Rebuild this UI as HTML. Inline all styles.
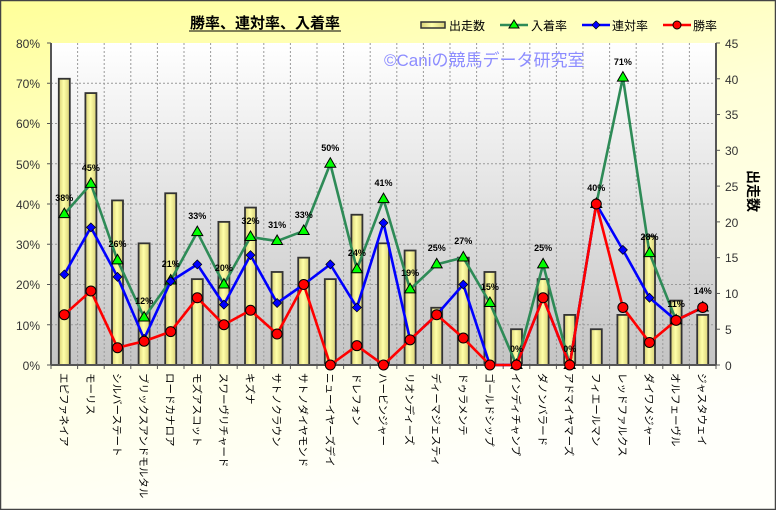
<!DOCTYPE html>
<html><head><meta charset="utf-8"><style>
html,body{margin:0;padding:0;width:776px;height:510px;overflow:hidden;background:#fff}
svg{display:block;font-family:"Liberation Sans","Noto Sans CJK JP",sans-serif}
</style></head><body>
<svg id="s" width="776" height="510" viewBox="0 0 776 510" xmlns="http://www.w3.org/2000/svg">
<defs>
<linearGradient id="bg" x1="0" y1="0" x2="0.35" y2="1"><stop offset="0" stop-color="#ffff99"/><stop offset="0.45" stop-color="#ffffd8"/><stop offset="1" stop-color="#fffffa"/></linearGradient>
<linearGradient id="pa" x1="0" y1="0" x2="0" y2="1"><stop offset="0" stop-color="#ffffff"/><stop offset="1" stop-color="#c4c4c4"/></linearGradient>
<linearGradient id="bar" x1="0" y1="0" x2="1" y2="0"><stop offset="0" stop-color="#d8d078"/><stop offset="0.45" stop-color="#ffffa8"/><stop offset="1" stop-color="#d8d078"/></linearGradient>
</defs>
<rect x="0.5" y="0.5" width="775" height="509" fill="url(#bg)" stroke="#444" stroke-width="1.5"/>
<rect x="51" y="43" width="665" height="322" fill="url(#pa)"/>
<g id="grid" stroke="#9a9a9a" stroke-width="1" stroke-dasharray="2,2" fill="none"></g>
<g id="bars"></g>
<line x1="51" y1="43" x2="51" y2="365" stroke="#555" stroke-width="2"/>
<line x1="716" y1="43" x2="716" y2="365" stroke="#555" stroke-width="2"/>
<line x1="51" y1="365" x2="716" y2="365" stroke="#555" stroke-width="2"/>
<g id="ticks" stroke="#555" stroke-width="1"></g>
<g id="series"></g>
<text x="265" y="28" font-size="15" font-weight="bold" text-anchor="middle" fill="#000">勝率、連対率、入着率</text>
<line x1="189" y1="31" x2="341" y2="31" stroke="#000" stroke-width="1"/>
<!-- legend -->
<rect x="421" y="22" width="24" height="6" fill="url(#bar)" stroke="#333" stroke-width="1.5"/>
<text x="449" y="30" font-size="12">出走数</text>
<line x1="500" y1="25" x2="528" y2="25" stroke="#2e8b57" stroke-width="2.5"/><polygon points="514,20 519,28 509,28" fill="#00ff00" stroke="#000" stroke-width="1"/>
<text x="531" y="30" font-size="12">入着率</text>
<line x1="582" y1="25" x2="610" y2="25" stroke="#0000ff" stroke-width="2.5"/><polygon points="596,21 600,25 596,29 592,25" fill="#0000ff" stroke="#000" stroke-width=".7"/>
<text x="612" y="30" font-size="12">連対率</text>
<line x1="663" y1="25" x2="691" y2="25" stroke="#ff0000" stroke-width="2.5"/><circle cx="677" cy="25" r="4" fill="#ff0000" stroke="#000" stroke-width="1"/>
<text x="693" y="30" font-size="12">勝率</text>
<text x="384" y="66" font-size="17" fill="#8c8cff">©Caniの競馬データ研究室</text>
<!-- left axis -->
<g font-size="12" fill="#333" text-anchor="end">
<text x="40" y="48">80%</text><text x="40" y="88">70%</text><text x="40" y="128">60%</text><text x="40" y="169">50%</text><text x="40" y="209">40%</text><text x="40" y="249">30%</text><text x="40" y="289">20%</text><text x="40" y="330">10%</text><text x="40" y="370">0%</text>
</g>
<g font-size="12" fill="#333" text-anchor="start">
<text x="725" y="48">45</text><text x="725" y="84">40</text><text x="725" y="119">35</text><text x="725" y="155">30</text><text x="725" y="191">25</text><text x="725" y="227">20</text><text x="725" y="262">15</text><text x="725" y="298">10</text><text x="725" y="334">5</text><text x="725" y="370">0</text>
</g>
<text font-size="14" font-weight="bold" fill="#000" transform="translate(748,170) rotate(90)">出走数</text>
<!-- x labels -->
<g font-size="10.5" fill="#000">
<text transform="translate(60.3,373) rotate(90)">エピファネイア</text>
<text transform="translate(86.9,373) rotate(90)">モーリス</text>
<text transform="translate(113.5,373) rotate(90)">シルバーステート</text>
<text transform="translate(140.1,373) rotate(90)">ブリックスアンドモルタル</text>
<text transform="translate(166.7,373) rotate(90)">ロードカナロア</text>
<text transform="translate(193.3,373) rotate(90)">モズアスコット</text>
<text transform="translate(219.9,373) rotate(90)">スワーヴリチャード</text>
<text transform="translate(246.5,373) rotate(90)">キズナ</text>
<text transform="translate(273.1,373) rotate(90)">サトノクラウン</text>
<text transform="translate(299.7,373) rotate(90)">サトノダイヤモンド</text>
<text transform="translate(326.3,373) rotate(90)">ニューイヤーズデイ</text>
<text transform="translate(352.9,373) rotate(90)">ドレフォン</text>
<text transform="translate(379.5,373) rotate(90)">ハービンジャー</text>
<text transform="translate(406.1,373) rotate(90)">リオンディーズ</text>
<text transform="translate(432.7,373) rotate(90)">ディーマジェスティ</text>
<text transform="translate(459.3,373) rotate(90)">ドゥラメンテ</text>
<text transform="translate(485.9,373) rotate(90)">ゴールドシップ</text>
<text transform="translate(512.5,373) rotate(90)">インディチャンプ</text>
<text transform="translate(539.1,373) rotate(90)">ダノンバラード</text>
<text transform="translate(565.7,373) rotate(90)">アドマイヤマーズ</text>
<text transform="translate(592.3,373) rotate(90)">フィエールマン</text>
<text transform="translate(618.9,373) rotate(90)">レッドファルクス</text>
<text transform="translate(645.5,373) rotate(90)">ダイワメジャー</text>
<text transform="translate(672.1,373) rotate(90)">オルフェーヴル</text>
<text transform="translate(698.7,373) rotate(90)">ジャスタウェイ</text>
</g>
<!-- data labels -->
<g font-size="9" font-weight="bold" text-anchor="middle" fill="#000">
<text x="64.3" y="201">38%</text><text x="90.9" y="171">45%</text><text x="117.5" y="247">26%</text><text x="144.1" y="304">12%</text><text x="170.7" y="267">21%</text><text x="197.3" y="219">33%</text><text x="223.9" y="271">20%</text><text x="250.5" y="224">32%</text><text x="277.1" y="228">31%</text><text x="303.7" y="218">33%</text><text x="330.3" y="151">50%</text><text x="356.9" y="256">24%</text><text x="383.5" y="186">41%</text><text x="410.1" y="276">19%</text><text x="436.7" y="251">25%</text><text x="463.3" y="244">27%</text><text x="489.9" y="290">15%</text><text x="516.5" y="352">0%</text><text x="543.1" y="251">25%</text><text x="569.7" y="352">0%</text><text x="596.3" y="191">40%</text><text x="622.9" y="65">71%</text><text x="649.5" y="240">28%</text><text x="676.1" y="307">11%</text><text x="702.7" y="294">14%</text>
</g>
<script>
(function(){
var NS="http://www.w3.org/2000/svg";
function el(p,t,a){var e=document.createElementNS(NS,t);for(var k in a)e.setAttribute(k,a[k]);p.appendChild(e);return e;}
var W=26.6,X0=51;
function xc(i){return X0+W*(i+0.5);}
function yl(p){return 365-p*4.025;}
function yr(n){return 365-n*7.156;}
var g=document.getElementById('grid');
for(var i=1;i<25;i++){var x=X0+W*i;el(g,'line',{x1:x,y1:43,x2:x,y2:365});}
for(var p=10;p<=70;p+=10){el(g,'line',{x1:51,y1:yl(p),x2:716,y2:yl(p)});}
var t=document.getElementById('ticks');
for(var p=0;p<=80;p+=10)el(t,'line',{x1:47,y1:yl(p),x2:51,y2:yl(p)});
for(var n=0;n<=45;n+=5)el(t,'line',{x1:716,y1:yr(n),x2:720,y2:yr(n)});
for(var i=0;i<=25;i++)el(t,'line',{x1:X0+W*i,y1:365,x2:X0+W*i,y2:369});
var bars=[40,38,23,17,24,12,20,22,13,15,12,21,17,16,8,15,13,5,12,7,5,7,18,9,7];
var b=document.getElementById('bars');
bars.forEach(function(v,i){el(b,'rect',{x:xc(i)-5.5,y:yr(v),width:11,height:365-yr(v),fill:'url(#bar)',stroke:'#333','stroke-width':1.8});});
var G=[37.5,45,26,11.8,21,33,20,31.8,30.8,33.3,50,23.8,41.2,18.8,25,26.7,15.4,0,25,0,40,71.4,27.8,11.1,14.3];
var B=[22.5,34.2,21.9,6.5,20.8,25,15,27.3,15.4,20,25,14.3,35.3,6.25,12.5,20,0,0,16.7,0,40,28.6,16.7,11.1,14.3];
var R=[12.5,18.4,4.3,5.9,8.3,16.7,10,13.6,7.7,20,0,4.8,0,6.25,12.5,6.7,0,0,16.7,0,40,14.3,5.6,11.1,14.3];
var s=document.getElementById('series');
function pl(arr,c){el(s,'polyline',{points:arr.map(function(v,i){return xc(i)+','+yl(v);}).join(' '),fill:'none',stroke:c,'stroke-width':2.6,'stroke-linejoin':'round'});}
pl(G,'#2e8b57');pl(B,'#0000ff');pl(R,'#ff0000');
G.forEach(function(v,i){var x=xc(i),y=yl(v);el(s,'polygon',{points:x+','+(y-6)+' '+(x+5.5)+','+(y+3.5)+' '+(x-5.5)+','+(y+3.5),fill:'#00ff00',stroke:'#000','stroke-width':1});});
B.forEach(function(v,i){var x=xc(i),y=yl(v);el(s,'polygon',{points:x+','+(y-4.5)+' '+(x+4.5)+','+y+' '+x+','+(y+4.5)+' '+(x-4.5)+','+y,fill:'#0000ff',stroke:'#000','stroke-width':.7});});
R.forEach(function(v,i){el(s,'circle',{cx:xc(i),cy:yl(v),r:5,fill:'#ff0000',stroke:'#000','stroke-width':1});});
})();
</script>
</svg>
</body></html>
